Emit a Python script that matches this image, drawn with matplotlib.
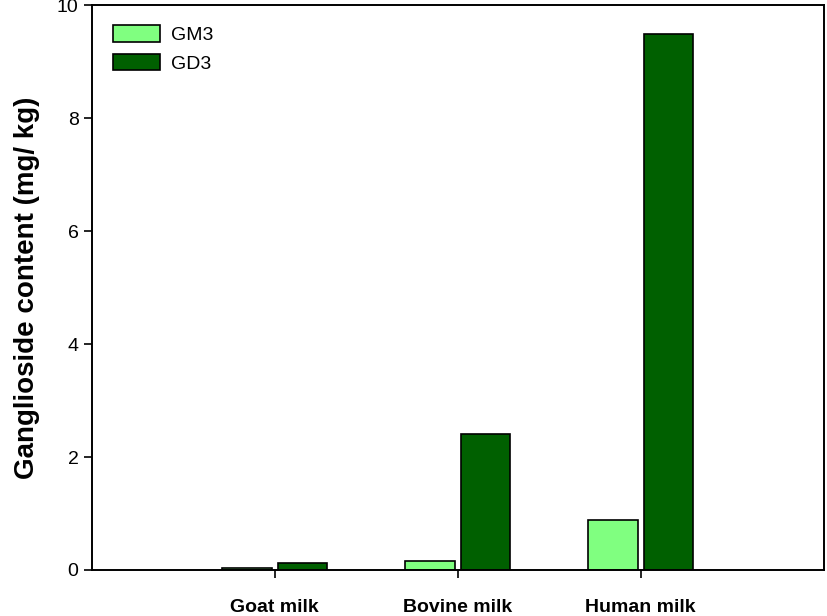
import matplotlib.pyplot as plt
import numpy as np

plt.rcParams['font.family'] = ['Liberation Sans', 'DejaVu Sans']

categories = ['Goat milk', 'Bovine milk', 'Human milk']
gm3 = [0.04, 0.165, 0.885]
gd3 = [0.12, 2.41, 9.48]

x = np.arange(1, len(categories) + 1)
w = 0.27

fig = plt.figure(figsize=(8.27, 6.16), dpi=100)
ax = fig.add_axes([0.111, 0.0747, 0.885, 0.917])

ax.bar(x - 0.151, gm3, w, color='#80ff80', edgecolor='black', linewidth=1.2, label='GM3')
ax.bar(x + 0.151, gd3, w, color='#006000', edgecolor='black', linewidth=1.2, label='GD3')

ax.set_xlim(0, 4)
ax.set_ylim(0, 10)
ax.set_xticks(x)
ax.set_xticklabels(categories, fontsize=14, fontweight='bold')
ax.set_yticks(range(0, 11, 2))
ax.tick_params(axis='y', labelsize=14, direction='out', length=6, width=1.2)
ax.tick_params(axis='x', direction='out', length=6, width=1.2, pad=15)
for s in ax.spines.values():
    s.set_linewidth(1.4)

ax.set_ylabel('Ganglioside content (mg/ kg)', fontsize=20, fontweight='bold', labelpad=12)

ax.legend(loc='upper left', frameon=False, fontsize=14, handlelength=2.4,
          handleheight=0.9, handletextpad=0.6, bbox_to_anchor=(0.005, 0.995),
          labelspacing=0.5)

fig.savefig('out.png', dpi=100)
